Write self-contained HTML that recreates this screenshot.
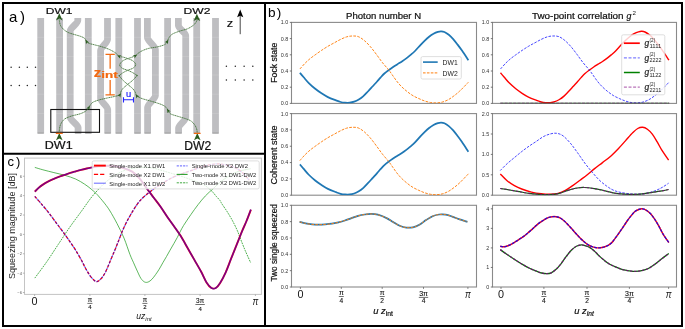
<!DOCTYPE html>
<html><head><meta charset="utf-8"><style>
html,body{margin:0;padding:0;background:#fff;}
body{width:685px;height:329px;overflow:hidden;}
svg{display:block;}
.aa{will-change:transform;}
text{font-family:"Liberation Sans",sans-serif;}
</style></head><body>
<svg class="aa" xmlns="http://www.w3.org/2000/svg" width="685" height="329" viewBox="0 0 685 329">
<rect x="0" y="0" width="685" height="329" fill="#fff"/>
<rect x="3" y="3" width="679" height="323" fill="none" stroke="#000" stroke-width="2"/>
<line x1="265" y1="2" x2="265" y2="327" stroke="#000" stroke-width="2"/>
<line x1="2" y1="153.8" x2="266" y2="153.8" stroke="#000" stroke-width="2"/>
<text x="268" y="16.8" font-size="13.6" text-anchor="start" fill="#000" stroke="none" letter-spacing="1.3">b)</text>
<text x="383.6" y="19.2" font-size="8.6" text-anchor="middle" fill="#111" textLength="75" lengthAdjust="spacingAndGlyphs"  stroke="#111" stroke-width="0.2">Photon number N</text>
<text x="532" y="19" font-size="8.6" text-anchor="start" fill="#111" textLength="91.6" lengthAdjust="spacingAndGlyphs"  stroke="#111" stroke-width="0.2">Two-point correlation</text>
<text x="626.4" y="19" font-size="8.8" fill="#111" font-style="italic" stroke="#111" stroke-width="0.2">g</text>
<text x="632.6" y="14.9" font-size="6.2" fill="#111">2</text>
<text transform="translate(277.2,62.7) rotate(-90)" x="0" y="0" font-size="8.6" text-anchor="middle" fill="#111" textLength="40" lengthAdjust="spacingAndGlyphs" stroke="#111" stroke-width="0.2">Fock state</text>
<text transform="translate(277.2,155) rotate(-90)" x="0" y="0" font-size="8.6" text-anchor="middle" fill="#111" textLength="59" lengthAdjust="spacingAndGlyphs" stroke="#111" stroke-width="0.2">Coherent state</text>
<text transform="translate(277.2,242.8) rotate(-90)" x="0" y="0" font-size="8.6" text-anchor="middle" fill="#111" textLength="77.5" lengthAdjust="spacingAndGlyphs" stroke="#111" stroke-width="0.2">Two single squeezed</text>
<rect x="291.5" y="22.4" width="185" height="81" fill="none" stroke="#8a8a8a" stroke-width="1.1"/>
<rect x="492.5" y="22.4" width="184" height="81" fill="none" stroke="#8a8a8a" stroke-width="1.1"/>
<rect x="291.5" y="113.6" width="185" height="81.6" fill="none" stroke="#8a8a8a" stroke-width="1.1"/>
<rect x="492.5" y="113.6" width="184" height="81.6" fill="none" stroke="#8a8a8a" stroke-width="1.1"/>
<rect x="291.5" y="205.3" width="185" height="81.7" fill="none" stroke="#8a8a8a" stroke-width="1.1"/>
<rect x="492.5" y="205.3" width="184" height="81.7" fill="none" stroke="#8a8a8a" stroke-width="1.1"/>
<line x1="289.8" y1="103.4" x2="291.5" y2="103.4" stroke="#555" stroke-width="0.8"/>
<text x="288.3" y="105.3" font-size="5.4" text-anchor="end" fill="#333" >0.0</text>
<line x1="289.8" y1="87.2" x2="291.5" y2="87.2" stroke="#555" stroke-width="0.8"/>
<text x="288.3" y="89.1" font-size="5.4" text-anchor="end" fill="#333" >0.2</text>
<line x1="289.8" y1="71" x2="291.5" y2="71" stroke="#555" stroke-width="0.8"/>
<text x="288.3" y="72.9" font-size="5.4" text-anchor="end" fill="#333" >0.4</text>
<line x1="289.8" y1="54.8" x2="291.5" y2="54.8" stroke="#555" stroke-width="0.8"/>
<text x="288.3" y="56.7" font-size="5.4" text-anchor="end" fill="#333" >0.6</text>
<line x1="289.8" y1="38.6" x2="291.5" y2="38.6" stroke="#555" stroke-width="0.8"/>
<text x="288.3" y="40.5" font-size="5.4" text-anchor="end" fill="#333" >0.8</text>
<line x1="289.8" y1="22.4" x2="291.5" y2="22.4" stroke="#555" stroke-width="0.8"/>
<text x="288.3" y="24.3" font-size="5.4" text-anchor="end" fill="#333" >1.0</text>
<line x1="289.8" y1="195.2" x2="291.5" y2="195.2" stroke="#555" stroke-width="0.8"/>
<text x="288.3" y="197.1" font-size="5.4" text-anchor="end" fill="#333" >0.0</text>
<line x1="289.8" y1="178.88" x2="291.5" y2="178.88" stroke="#555" stroke-width="0.8"/>
<text x="288.3" y="180.78" font-size="5.4" text-anchor="end" fill="#333" >0.2</text>
<line x1="289.8" y1="162.56" x2="291.5" y2="162.56" stroke="#555" stroke-width="0.8"/>
<text x="288.3" y="164.46" font-size="5.4" text-anchor="end" fill="#333" >0.4</text>
<line x1="289.8" y1="146.24" x2="291.5" y2="146.24" stroke="#555" stroke-width="0.8"/>
<text x="288.3" y="148.14" font-size="5.4" text-anchor="end" fill="#333" >0.6</text>
<line x1="289.8" y1="129.92" x2="291.5" y2="129.92" stroke="#555" stroke-width="0.8"/>
<text x="288.3" y="131.82" font-size="5.4" text-anchor="end" fill="#333" >0.8</text>
<line x1="289.8" y1="113.6" x2="291.5" y2="113.6" stroke="#555" stroke-width="0.8"/>
<text x="288.3" y="115.5" font-size="5.4" text-anchor="end" fill="#333" >1.0</text>
<line x1="289.8" y1="287" x2="291.5" y2="287" stroke="#555" stroke-width="0.8"/>
<text x="288.3" y="288.9" font-size="5.4" text-anchor="end" fill="#333" >0.0</text>
<line x1="289.8" y1="270.66" x2="291.5" y2="270.66" stroke="#555" stroke-width="0.8"/>
<text x="288.3" y="272.56" font-size="5.4" text-anchor="end" fill="#333" >0.2</text>
<line x1="289.8" y1="254.32" x2="291.5" y2="254.32" stroke="#555" stroke-width="0.8"/>
<text x="288.3" y="256.22" font-size="5.4" text-anchor="end" fill="#333" >0.4</text>
<line x1="289.8" y1="237.98" x2="291.5" y2="237.98" stroke="#555" stroke-width="0.8"/>
<text x="288.3" y="239.88" font-size="5.4" text-anchor="end" fill="#333" >0.6</text>
<line x1="289.8" y1="221.64" x2="291.5" y2="221.64" stroke="#555" stroke-width="0.8"/>
<text x="288.3" y="223.54" font-size="5.4" text-anchor="end" fill="#333" >0.8</text>
<line x1="289.8" y1="205.3" x2="291.5" y2="205.3" stroke="#555" stroke-width="0.8"/>
<text x="288.3" y="207.2" font-size="5.4" text-anchor="end" fill="#333" >1.0</text>
<line x1="490.8" y1="103.4" x2="492.5" y2="103.4" stroke="#555" stroke-width="0.8"/>
<text x="489.3" y="105.3" font-size="5.4" text-anchor="end" fill="#333" >0.0</text>
<line x1="490.8" y1="87.2" x2="492.5" y2="87.2" stroke="#555" stroke-width="0.8"/>
<text x="489.3" y="89.1" font-size="5.4" text-anchor="end" fill="#333" >0.2</text>
<line x1="490.8" y1="71" x2="492.5" y2="71" stroke="#555" stroke-width="0.8"/>
<text x="489.3" y="72.9" font-size="5.4" text-anchor="end" fill="#333" >0.4</text>
<line x1="490.8" y1="54.8" x2="492.5" y2="54.8" stroke="#555" stroke-width="0.8"/>
<text x="489.3" y="56.7" font-size="5.4" text-anchor="end" fill="#333" >0.6</text>
<line x1="490.8" y1="38.6" x2="492.5" y2="38.6" stroke="#555" stroke-width="0.8"/>
<text x="489.3" y="40.5" font-size="5.4" text-anchor="end" fill="#333" >0.8</text>
<line x1="490.8" y1="22.4" x2="492.5" y2="22.4" stroke="#555" stroke-width="0.8"/>
<text x="489.3" y="24.3" font-size="5.4" text-anchor="end" fill="#333" >1.0</text>
<line x1="490.8" y1="195.2" x2="492.5" y2="195.2" stroke="#555" stroke-width="0.8"/>
<text x="489.3" y="197.1" font-size="5.4" text-anchor="end" fill="#333" >0.0</text>
<line x1="490.8" y1="174.8" x2="492.5" y2="174.8" stroke="#555" stroke-width="0.8"/>
<text x="489.3" y="176.7" font-size="5.4" text-anchor="end" fill="#333" >0.5</text>
<line x1="490.8" y1="154.4" x2="492.5" y2="154.4" stroke="#555" stroke-width="0.8"/>
<text x="489.3" y="156.3" font-size="5.4" text-anchor="end" fill="#333" >1.0</text>
<line x1="490.8" y1="134" x2="492.5" y2="134" stroke="#555" stroke-width="0.8"/>
<text x="489.3" y="135.9" font-size="5.4" text-anchor="end" fill="#333" >1.5</text>
<line x1="490.8" y1="113.6" x2="492.5" y2="113.6" stroke="#555" stroke-width="0.8"/>
<text x="489.3" y="115.5" font-size="5.4" text-anchor="end" fill="#333" >2.0</text>
<line x1="490.8" y1="287" x2="492.5" y2="287" stroke="#555" stroke-width="0.8"/>
<text x="489.3" y="288.9" font-size="5.4" text-anchor="end" fill="#333" >0</text>
<line x1="490.8" y1="267.45" x2="492.5" y2="267.45" stroke="#555" stroke-width="0.8"/>
<text x="489.3" y="269.35" font-size="5.4" text-anchor="end" fill="#333" >1</text>
<line x1="490.8" y1="247.91" x2="492.5" y2="247.91" stroke="#555" stroke-width="0.8"/>
<text x="489.3" y="249.81" font-size="5.4" text-anchor="end" fill="#333" >2</text>
<line x1="490.8" y1="228.36" x2="492.5" y2="228.36" stroke="#555" stroke-width="0.8"/>
<text x="489.3" y="230.26" font-size="5.4" text-anchor="end" fill="#333" >3</text>
<line x1="490.8" y1="208.82" x2="492.5" y2="208.82" stroke="#555" stroke-width="0.8"/>
<text x="489.3" y="210.72" font-size="5.4" text-anchor="end" fill="#333" >4</text>
<line x1="300.4" y1="287" x2="300.4" y2="288.9" stroke="#666" stroke-width="0.8"/>
<line x1="341.3" y1="287" x2="341.3" y2="288.9" stroke="#666" stroke-width="0.8"/>
<line x1="382.2" y1="287" x2="382.2" y2="288.9" stroke="#666" stroke-width="0.8"/>
<line x1="423.5" y1="287" x2="423.5" y2="288.9" stroke="#666" stroke-width="0.8"/>
<line x1="467.9" y1="287" x2="467.9" y2="288.9" stroke="#666" stroke-width="0.8"/>
<line x1="501" y1="287" x2="501" y2="288.9" stroke="#666" stroke-width="0.8"/>
<line x1="543.9" y1="287" x2="543.9" y2="288.9" stroke="#666" stroke-width="0.8"/>
<line x1="587" y1="287" x2="587" y2="288.9" stroke="#666" stroke-width="0.8"/>
<line x1="629.4" y1="287" x2="629.4" y2="288.9" stroke="#666" stroke-width="0.8"/>
<line x1="668.6" y1="287" x2="668.6" y2="288.9" stroke="#666" stroke-width="0.8"/>
<text x="300.4" y="297.8" font-size="10.8" text-anchor="middle" fill="#111" stroke="none">0</text>
<text x="341.3" y="294.5" font-size="7" text-anchor="middle" fill="#111" stroke="#111" stroke-width="0.12">&#960;</text>
<line x1="338.8" y1="296.5" x2="343.8" y2="296.5" stroke="#222" stroke-width="0.65"/>
<text x="341.3" y="302.7" font-size="6.6" text-anchor="middle" fill="#111" stroke="#111" stroke-width="0.12">4</text>
<text x="382.2" y="294.5" font-size="7" text-anchor="middle" fill="#111" stroke="#111" stroke-width="0.12">&#960;</text>
<line x1="379.7" y1="296.5" x2="384.7" y2="296.5" stroke="#222" stroke-width="0.65"/>
<text x="382.2" y="302.7" font-size="6.6" text-anchor="middle" fill="#111" stroke="#111" stroke-width="0.12">2</text>
<text x="423.5" y="295.6" font-size="7" text-anchor="middle" fill="#111" stroke="#111" stroke-width="0.12">3&#960;</text>
<line x1="418.8" y1="297.4" x2="428.2" y2="297.4" stroke="#222" stroke-width="0.65"/>
<text x="423.5" y="303.4" font-size="6.6" text-anchor="middle" fill="#111" stroke="#111" stroke-width="0.12">4</text>
<text x="465" y="297.8" font-size="10.8" text-anchor="start" fill="#111" textLength="5.8" lengthAdjust="spacingAndGlyphs" font-style="italic" stroke="none">&#960;</text>
<text x="501" y="297.8" font-size="10.8" text-anchor="middle" fill="#111" stroke="none">0</text>
<text x="543.9" y="294.5" font-size="7" text-anchor="middle" fill="#111" stroke="#111" stroke-width="0.12">&#960;</text>
<line x1="541.4" y1="296.5" x2="546.4" y2="296.5" stroke="#222" stroke-width="0.65"/>
<text x="543.9" y="302.7" font-size="6.6" text-anchor="middle" fill="#111" stroke="#111" stroke-width="0.12">4</text>
<text x="587" y="294.5" font-size="7" text-anchor="middle" fill="#111" stroke="#111" stroke-width="0.12">&#960;</text>
<line x1="584.5" y1="296.5" x2="589.5" y2="296.5" stroke="#222" stroke-width="0.65"/>
<text x="587" y="302.7" font-size="6.6" text-anchor="middle" fill="#111" stroke="#111" stroke-width="0.12">2</text>
<text x="629.4" y="295.6" font-size="7" text-anchor="middle" fill="#111" stroke="#111" stroke-width="0.12">3&#960;</text>
<line x1="624.7" y1="297.4" x2="634.1" y2="297.4" stroke="#222" stroke-width="0.65"/>
<text x="629.4" y="303.4" font-size="6.6" text-anchor="middle" fill="#111" stroke="#111" stroke-width="0.12">4</text>
<text x="665.7" y="297.8" font-size="10.8" text-anchor="start" fill="#111" textLength="5.8" lengthAdjust="spacingAndGlyphs" font-style="italic" stroke="none">&#960;</text>
<text x="383" y="314" font-size="9.4" text-anchor="middle" fill="#111" font-style="italic" stroke="#111" stroke-width="0.2">u z<tspan font-size="6.8" dy="2" font-style="normal">int</tspan></text>
<text x="584" y="314" font-size="9.4" text-anchor="middle" fill="#111" font-style="italic" stroke="#111" stroke-width="0.2">u z<tspan font-size="6.6" dy="2">int</tspan></text>
<defs><clipPath id="cl0"><rect x="291.5" y="20.4" width="185" height="83"/></clipPath><clipPath id="cr0"><rect x="492.5" y="20.4" width="184" height="83"/></clipPath><clipPath id="cl1"><rect x="291.5" y="111.6" width="185" height="83.6"/></clipPath><clipPath id="cr1"><rect x="492.5" y="111.6" width="184" height="83.6"/></clipPath><clipPath id="cl2"><rect x="291.5" y="203.3" width="185" height="83.7"/></clipPath><clipPath id="cr2"><rect x="492.5" y="203.3" width="184" height="83.7"/></clipPath></defs>
<g clip-path="url(#cl0)">
<path d="M299.9,72.8 C300.53,73.55 302.22,75.58 303.7,77.3 C305.18,79.02 306.88,81.18 308.8,83.1 C310.72,85.02 313.08,87.1 315.2,88.8 C317.32,90.5 319.38,91.92 321.5,93.3 C323.62,94.68 325.48,95.92 327.9,97.1 C330.32,98.28 333.88,99.58 336,100.4 C338.12,101.22 339.08,101.62 340.6,102 C342.12,102.38 343.58,102.58 345.1,102.7 C346.62,102.82 348.18,102.87 349.7,102.7 C351.22,102.53 352.68,102.23 354.2,101.7 C355.72,101.17 357.27,100.43 358.8,99.5 C360.33,98.57 361.88,97.43 363.4,96.1 C364.92,94.77 366.38,93.1 367.9,91.5 C369.42,89.9 370.97,88.17 372.5,86.5 C374.03,84.83 375.77,82.98 377.1,81.5 C378.43,80.02 379.28,78.93 380.5,77.6 C381.72,76.27 383.02,74.77 384.4,73.5 C385.78,72.23 387.35,71.08 388.8,70 C390.25,68.92 391.65,67.97 393.1,67 C394.55,66.03 396.03,65.12 397.5,64.2 C398.97,63.28 400.43,62.47 401.9,61.5 C403.37,60.53 404.85,59.5 406.3,58.4 C407.75,57.3 409.15,56.13 410.6,54.9 C412.05,53.67 413.37,52.63 415,51 C416.63,49.37 418.77,46.83 420.4,45.1 C422.03,43.37 423.35,42 424.8,40.6 C426.25,39.2 427.65,37.85 429.1,36.7 C430.55,35.55 432.03,34.52 433.5,33.7 C434.97,32.88 436.62,32.2 437.9,31.8 C439.18,31.4 440.12,31.27 441.2,31.3 C442.28,31.33 443.13,31.42 444.4,32 C445.67,32.58 447.33,33.62 448.8,34.8 C450.27,35.98 451.73,37.47 453.2,39.1 C454.67,40.73 456.13,42.68 457.6,44.6 C459.07,46.52 460.2,48 462,50.6 C463.8,53.2 467.33,58.6 468.4,60.2" fill="none" stroke="#1f77b4" stroke-width="1.75" stroke-linecap="butt" stroke-linejoin="round" />
<path d="M299.9,69 C300.73,68.07 303.22,65.12 304.9,63.4 C306.58,61.68 308.3,60.12 310,58.7 C311.7,57.28 313.18,56.28 315.1,54.9 C317.02,53.52 319.37,51.83 321.5,50.4 C323.63,48.97 325.77,47.57 327.9,46.3 C330.03,45.03 332.18,43.95 334.3,42.8 C336.42,41.65 338.57,40.38 340.6,39.4 C342.63,38.42 344.58,37.47 346.5,36.9 C348.42,36.33 350.15,36.05 352.1,36 C354.05,35.95 356.17,35.85 358.2,36.6 C360.23,37.35 362.27,38.82 364.3,40.5 C366.33,42.18 368.38,44.38 370.4,46.7 C372.42,49.02 374.38,51.73 376.4,54.4 C378.42,57.07 380.47,60.13 382.5,62.7 C384.53,65.27 387.02,67.83 388.6,69.8 C390.18,71.77 390.65,72.62 392,74.5 C393.35,76.38 395.15,79.12 396.7,81.1 C398.25,83.08 399.55,84.65 401.3,86.4 C403.05,88.15 405.25,90.05 407.2,91.6 C409.15,93.15 411.05,94.53 413,95.7 C414.95,96.87 416.95,97.72 418.9,98.6 C420.85,99.48 422.75,100.35 424.7,101 C426.65,101.65 428.65,102.18 430.6,102.5 C432.55,102.82 434.47,102.97 436.4,102.9 C438.33,102.83 440.25,102.62 442.2,102.1 C444.15,101.58 446.15,100.83 448.1,99.8 C450.05,98.77 451.95,97.37 453.9,95.9 C455.85,94.43 457.38,93.28 459.8,91 C462.22,88.72 466.97,83.67 468.4,82.2" fill="none" stroke="#ff7f0e" stroke-width="0.95" stroke-linecap="butt" stroke-linejoin="round" stroke-dasharray="2.7,1.3" />
</g>
<g clip-path="url(#cl1)">
<path d="M299.9,164.37 C300.53,165.13 302.22,167.18 303.7,168.91 C305.18,170.64 306.88,172.82 308.8,174.75 C310.72,176.68 313.08,178.78 315.2,180.49 C317.32,182.2 319.38,183.63 321.5,185.03 C323.62,186.42 325.48,187.66 327.9,188.85 C330.32,190.05 333.88,191.36 336,192.18 C338.12,193 339.08,193.4 340.6,193.79 C342.12,194.18 343.58,194.38 345.1,194.49 C346.62,194.61 348.18,194.66 349.7,194.49 C351.22,194.33 352.68,194.02 354.2,193.49 C355.72,192.95 357.27,192.21 358.8,191.27 C360.33,190.33 361.88,189.19 363.4,187.85 C364.92,186.5 366.38,184.82 367.9,183.21 C369.42,181.6 370.97,179.85 372.5,178.17 C374.03,176.5 375.77,174.63 377.1,173.14 C378.43,171.64 379.28,170.55 380.5,169.21 C381.72,167.87 383.02,166.35 384.4,165.08 C385.78,163.8 387.35,162.64 388.8,161.55 C390.25,160.46 391.65,159.5 393.1,158.53 C394.55,157.56 396.03,156.63 397.5,155.71 C398.97,154.79 400.43,153.96 401.9,152.99 C403.37,152.02 404.85,150.97 406.3,149.87 C407.75,148.76 409.15,147.58 410.6,146.34 C412.05,145.1 413.37,144.06 415,142.41 C416.63,140.77 418.77,138.21 420.4,136.47 C422.03,134.72 423.35,133.35 424.8,131.93 C426.25,130.52 427.65,129.16 429.1,128.01 C430.55,126.85 432.03,125.81 433.5,124.98 C434.97,124.16 436.62,123.47 437.9,123.07 C439.18,122.67 440.12,122.53 441.2,122.57 C442.28,122.6 443.13,122.68 444.4,123.27 C445.67,123.86 447.33,124.9 448.8,126.09 C450.27,127.28 451.73,128.78 453.2,130.42 C454.67,132.07 456.13,134.03 457.6,135.96 C459.07,137.9 460.2,139.39 462,142.01 C463.8,144.63 467.33,150.07 468.4,151.68" fill="none" stroke="#1f77b4" stroke-width="1.75" stroke-linecap="butt" stroke-linejoin="round" />
<path d="M299.9,160.55 C300.73,159.6 303.22,156.63 304.9,154.9 C306.58,153.17 308.3,151.6 310,150.17 C311.7,148.74 313.18,147.73 315.1,146.34 C317.02,144.95 319.37,143.25 321.5,141.81 C323.63,140.36 325.77,138.95 327.9,137.68 C330.03,136.4 332.18,135.31 334.3,134.15 C336.42,132.99 338.57,131.72 340.6,130.73 C342.63,129.74 344.58,128.78 346.5,128.21 C348.42,127.64 350.15,127.35 352.1,127.3 C354.05,127.25 356.17,127.15 358.2,127.91 C360.23,128.66 362.27,130.14 364.3,131.83 C366.33,133.53 368.38,135.75 370.4,138.08 C372.42,140.41 374.38,143.15 376.4,145.84 C378.42,148.52 380.47,151.61 382.5,154.2 C384.53,156.78 387.02,159.37 388.6,161.35 C390.18,163.33 390.65,164.19 392,166.09 C393.35,167.98 395.15,170.74 396.7,172.73 C398.25,174.73 399.55,176.31 401.3,178.07 C403.05,179.84 405.25,181.75 407.2,183.31 C409.15,184.87 411.05,186.27 413,187.44 C414.95,188.62 416.95,189.47 418.9,190.36 C420.85,191.25 422.75,192.13 424.7,192.78 C426.65,193.44 428.65,193.97 430.6,194.29 C432.55,194.61 434.47,194.76 436.4,194.7 C438.33,194.63 440.25,194.41 442.2,193.89 C444.15,193.37 446.15,192.61 448.1,191.57 C450.05,190.53 451.95,189.12 453.9,187.64 C455.85,186.17 457.38,185.01 459.8,182.71 C462.22,180.41 466.97,175.32 468.4,173.84" fill="none" stroke="#ff7f0e" stroke-width="0.95" stroke-linecap="butt" stroke-linejoin="round" stroke-dasharray="2.7,1.3" />
</g>
<g clip-path="url(#cl2)">
<path d="M299.6,221.8 C300.58,222.07 303.42,222.97 305.5,223.4 C307.58,223.83 309.9,224.18 312.1,224.4 C314.3,224.62 316.52,224.7 318.7,224.7 C320.88,224.7 323.02,224.57 325.2,224.4 C327.38,224.23 329.6,224.05 331.8,223.7 C334,223.35 336.22,222.83 338.4,222.3 C340.58,221.77 342.72,221.2 344.9,220.5 C347.08,219.8 349.3,218.87 351.5,218.1 C353.7,217.33 355.92,216.5 358.1,215.9 C360.28,215.3 362.42,214.83 364.6,214.5 C366.78,214.17 369,213.87 371.2,213.9 C373.4,213.93 375.23,214 377.8,214.7 C380.37,215.4 384.05,216.87 386.6,218.1 C389.15,219.33 390.92,220.82 393.1,222.1 C395.28,223.38 397.5,224.88 399.7,225.8 C401.9,226.72 404.1,227.35 406.3,227.6 C408.5,227.85 410.72,227.78 412.9,227.3 C415.08,226.82 417.22,225.9 419.4,224.7 C421.58,223.5 423.8,221.52 426,220.1 C428.2,218.68 430.42,217.13 432.6,216.2 C434.78,215.27 436.92,214.77 439.1,214.5 C441.28,214.23 443.5,214.25 445.7,214.6 C447.9,214.95 450.12,215.83 452.3,216.6 C454.48,217.37 456.28,218.33 458.8,219.2 C461.32,220.07 465.97,221.37 467.4,221.8" fill="none" stroke="#1f77b4" stroke-width="1.75" stroke-linecap="butt" stroke-linejoin="round" />
<path d="M299.6,221.8 C300.58,222.07 303.42,222.97 305.5,223.4 C307.58,223.83 309.9,224.18 312.1,224.4 C314.3,224.62 316.52,224.7 318.7,224.7 C320.88,224.7 323.02,224.57 325.2,224.4 C327.38,224.23 329.6,224.05 331.8,223.7 C334,223.35 336.22,222.83 338.4,222.3 C340.58,221.77 342.72,221.2 344.9,220.5 C347.08,219.8 349.3,218.87 351.5,218.1 C353.7,217.33 355.92,216.5 358.1,215.9 C360.28,215.3 362.42,214.83 364.6,214.5 C366.78,214.17 369,213.87 371.2,213.9 C373.4,213.93 375.23,214 377.8,214.7 C380.37,215.4 384.05,216.87 386.6,218.1 C389.15,219.33 390.92,220.82 393.1,222.1 C395.28,223.38 397.5,224.88 399.7,225.8 C401.9,226.72 404.1,227.35 406.3,227.6 C408.5,227.85 410.72,227.78 412.9,227.3 C415.08,226.82 417.22,225.9 419.4,224.7 C421.58,223.5 423.8,221.52 426,220.1 C428.2,218.68 430.42,217.13 432.6,216.2 C434.78,215.27 436.92,214.77 439.1,214.5 C441.28,214.23 443.5,214.25 445.7,214.6 C447.9,214.95 450.12,215.83 452.3,216.6 C454.48,217.37 456.28,218.33 458.8,219.2 C461.32,220.07 465.97,221.37 467.4,221.8" fill="none" stroke="#ff7f0e" stroke-width="0.95" stroke-linecap="butt" stroke-linejoin="round" stroke-dasharray="2.7,1.3" />
</g>
<g clip-path="url(#cr0)">
<path d="M500.5,72.8 C501.13,73.55 502.82,75.58 504.3,77.3 C505.78,79.02 507.48,81.18 509.4,83.1 C511.32,85.02 513.68,87.1 515.8,88.8 C517.92,90.5 519.98,91.92 522.1,93.3 C524.22,94.68 526.08,95.92 528.5,97.1 C530.92,98.28 534.48,99.58 536.6,100.4 C538.72,101.22 539.68,101.62 541.2,102 C542.72,102.38 544.18,102.58 545.7,102.7 C547.22,102.82 548.78,102.87 550.3,102.7 C551.82,102.53 553.28,102.23 554.8,101.7 C556.32,101.17 557.87,100.43 559.4,99.5 C560.93,98.57 562.48,97.43 564,96.1 C565.52,94.77 566.98,93.1 568.5,91.5 C570.02,89.9 571.57,88.17 573.1,86.5 C574.63,84.83 576.37,82.98 577.7,81.5 C579.03,80.02 579.88,78.93 581.1,77.6 C582.32,76.27 583.62,74.77 585,73.5 C586.38,72.23 587.95,71.08 589.4,70 C590.85,68.92 592.25,67.97 593.7,67 C595.15,66.03 596.63,65.12 598.1,64.2 C599.57,63.28 601.03,62.47 602.5,61.5 C603.97,60.53 605.45,59.5 606.9,58.4 C608.35,57.3 609.75,56.13 611.2,54.9 C612.65,53.67 613.97,52.63 615.6,51 C617.23,49.37 619.37,46.83 621,45.1 C622.63,43.37 623.95,42 625.4,40.6 C626.85,39.2 628.25,37.85 629.7,36.7 C631.15,35.55 632.63,34.52 634.1,33.7 C635.57,32.88 637.22,32.2 638.5,31.8 C639.78,31.4 640.72,31.27 641.8,31.3 C642.88,31.33 643.73,31.42 645,32 C646.27,32.58 647.93,33.62 649.4,34.8 C650.87,35.98 652.33,37.47 653.8,39.1 C655.27,40.73 656.73,42.68 658.2,44.6 C659.67,46.52 660.8,48 662.6,50.6 C664.4,53.2 667.93,58.6 669,60.2" fill="none" stroke="#ff0000" stroke-width="1.4" stroke-linecap="butt" stroke-linejoin="round" />
<path d="M500.5,69 C501.33,68.07 503.82,65.12 505.5,63.4 C507.18,61.68 508.9,60.12 510.6,58.7 C512.3,57.28 513.78,56.28 515.7,54.9 C517.62,53.52 519.97,51.83 522.1,50.4 C524.23,48.97 526.37,47.57 528.5,46.3 C530.63,45.03 532.78,43.95 534.9,42.8 C537.02,41.65 539.17,40.38 541.2,39.4 C543.23,38.42 545.18,37.47 547.1,36.9 C549.02,36.33 550.75,36.05 552.7,36 C554.65,35.95 556.77,35.85 558.8,36.6 C560.83,37.35 562.87,38.82 564.9,40.5 C566.93,42.18 568.98,44.38 571,46.7 C573.02,49.02 574.98,51.73 577,54.4 C579.02,57.07 581.07,60.13 583.1,62.7 C585.13,65.27 587.62,67.83 589.2,69.8 C590.78,71.77 591.25,72.62 592.6,74.5 C593.95,76.38 595.75,79.12 597.3,81.1 C598.85,83.08 600.15,84.65 601.9,86.4 C603.65,88.15 605.85,90.05 607.8,91.6 C609.75,93.15 611.65,94.53 613.6,95.7 C615.55,96.87 617.55,97.72 619.5,98.6 C621.45,99.48 623.35,100.35 625.3,101 C627.25,101.65 629.25,102.18 631.2,102.5 C633.15,102.82 635.07,102.97 637,102.9 C638.93,102.83 640.85,102.62 642.8,102.1 C644.75,101.58 646.75,100.83 648.7,99.8 C650.65,98.77 652.55,97.37 654.5,95.9 C656.45,94.43 657.98,93.28 660.4,91 C662.82,88.72 667.57,83.67 669,82.2" fill="none" stroke="#0000ff" stroke-width="1.0" stroke-linecap="butt" stroke-linejoin="round" stroke-dasharray="2.6,1.3" stroke-opacity="0.72" />
<line x1="500.3" y1="103.2" x2="669.2" y2="103.2" stroke="#1f6a1f" stroke-width="1.1"/>
<line x1="500.3" y1="103.2" x2="669.2" y2="103.2" stroke="#7a2a7a" stroke-width="1.1" stroke-dasharray="3,1.3"/>
</g>
<g clip-path="url(#cr1)">
<path d="M500.3,173.9 C501.43,175.03 504.75,178.75 507.1,180.7 C509.45,182.65 511.97,184.22 514.4,185.6 C516.83,186.98 518.87,187.92 521.7,189 C524.53,190.08 528.15,191.3 531.4,192.1 C534.65,192.9 537.95,193.43 541.2,193.8 C544.45,194.17 548.07,194.37 550.9,194.3 C553.73,194.23 555.78,194.05 558.2,193.4 C560.62,192.75 562.98,191.7 565.4,190.4 C567.82,189.1 570.27,187.3 572.7,185.6 C575.13,183.9 577.57,182.02 580,180.2 C582.43,178.38 584.87,176.63 587.3,174.7 C589.73,172.77 592.07,170.62 594.6,168.6 C597.13,166.58 599.77,164.72 602.5,162.6 C605.23,160.48 608.37,158.22 611,155.9 C613.63,153.58 615.87,151.25 618.3,148.7 C620.73,146.15 623.17,143.28 625.6,140.6 C628.03,137.92 630.88,134.62 632.9,132.6 C634.92,130.58 636.08,129.38 637.7,128.5 C639.32,127.62 640.98,127.18 642.6,127.3 C644.22,127.42 645.78,128.07 647.4,129.2 C649.02,130.33 650.67,131.98 652.3,134.1 C653.93,136.22 655.58,139.18 657.2,141.9 C658.82,144.62 660.1,147.37 662,150.4 C663.9,153.43 667.5,158.48 668.6,160.1" fill="none" stroke="#ff0000" stroke-width="1.4" stroke-linecap="butt" stroke-linejoin="round" />
<path d="M500.3,170.5 C501.43,169.37 504.75,165.85 507.1,163.7 C509.45,161.55 511.97,159.62 514.4,157.6 C516.83,155.58 519.27,153.5 521.7,151.6 C524.13,149.7 526.57,147.9 529,146.2 C531.43,144.5 533.87,143.02 536.3,141.4 C538.73,139.78 541.17,137.77 543.6,136.5 C546.03,135.23 548.68,134.33 550.9,133.8 C553.12,133.27 554.88,132.97 556.9,133.3 C558.92,133.63 560.77,134.17 563,135.8 C565.23,137.43 567.87,140.27 570.3,143.1 C572.73,145.93 575.17,149.45 577.6,152.8 C580.03,156.15 582.47,159.97 584.9,163.2 C587.33,166.43 589.78,169.37 592.2,172.2 C594.62,175.03 596.98,177.88 599.4,180.2 C601.82,182.52 604.43,184.47 606.7,186.1 C608.97,187.73 610.67,188.95 613,190 C615.33,191.05 617.38,191.72 620.7,192.4 C624.02,193.08 628.85,193.9 632.9,194.1 C636.95,194.3 641.37,194.13 645,193.6 C648.63,193.07 651.87,191.92 654.7,190.9 C657.53,189.88 659.68,188.78 662,187.5 C664.32,186.22 667.5,183.92 668.6,183.2" fill="none" stroke="#0000ff" stroke-width="1.0" stroke-linecap="butt" stroke-linejoin="round" stroke-dasharray="2.6,1.3" stroke-opacity="0.72" />
<path d="M500.3,188.5 C501.85,188.75 506.43,189.47 509.6,190 C512.77,190.53 516.07,191.13 519.3,191.7 C522.53,192.27 525.77,192.97 529,193.4 C532.23,193.83 535.47,194.1 538.7,194.3 C541.93,194.5 545.15,194.72 548.4,194.6 C551.65,194.48 554.95,194.3 558.2,193.6 C561.45,192.9 564.72,191.33 567.9,190.4 C571.08,189.47 574.52,188.48 577.3,188 C580.08,187.52 581.77,187.38 584.6,187.5 C587.43,187.62 590.87,188.13 594.3,188.7 C597.73,189.27 601.6,190.12 605.2,190.9 C608.8,191.68 612.1,192.83 615.9,193.4 C619.7,193.97 623.95,194.18 628,194.3 C632.05,194.42 636.15,194.42 640.2,194.1 C644.25,193.78 648.67,192.93 652.3,192.4 C655.93,191.87 659.28,191.38 662,190.9 C664.72,190.42 667.5,189.73 668.6,189.5" fill="none" stroke="#0a6a0a" stroke-width="1.2" stroke-linecap="butt" stroke-linejoin="round" />
<path d="M500.3,188.5 C501.85,188.75 506.43,189.47 509.6,190 C512.77,190.53 516.07,191.13 519.3,191.7 C522.53,192.27 525.77,192.97 529,193.4 C532.23,193.83 535.47,194.1 538.7,194.3 C541.93,194.5 545.15,194.72 548.4,194.6 C551.65,194.48 554.95,194.3 558.2,193.6 C561.45,192.9 564.72,191.33 567.9,190.4 C571.08,189.47 574.52,188.48 577.3,188 C580.08,187.52 581.77,187.38 584.6,187.5 C587.43,187.62 590.87,188.13 594.3,188.7 C597.73,189.27 601.6,190.12 605.2,190.9 C608.8,191.68 612.1,192.83 615.9,193.4 C619.7,193.97 623.95,194.18 628,194.3 C632.05,194.42 636.15,194.42 640.2,194.1 C644.25,193.78 648.67,192.93 652.3,192.4 C655.93,191.87 659.28,191.38 662,190.9 C664.72,190.42 667.5,189.73 668.6,189.5" fill="none" stroke="#800080" stroke-width="1.2" stroke-linecap="butt" stroke-linejoin="round" stroke-dasharray="2.4,1.6" stroke-opacity="0.72" />
</g>
<g clip-path="url(#cr2)">
<path d="M500.2,246.3 C500.83,246.38 502.7,246.9 504,246.8 C505.3,246.7 506.67,246.2 508,245.7 C509.33,245.2 510.67,244.52 512,243.8 C513.33,243.08 514.65,242.25 516,241.4 C517.35,240.55 518.75,239.58 520.1,238.7 C521.45,237.82 522.77,237.1 524.1,236.1 C525.43,235.1 526.77,233.82 528.1,232.7 C529.43,231.58 530.77,230.58 532.1,229.4 C533.43,228.22 534.77,226.77 536.1,225.6 C537.43,224.43 538.77,223.37 540.1,222.4 C541.43,221.43 542.77,220.6 544.1,219.8 C545.43,219 546.77,218.12 548.1,217.6 C549.43,217.08 550.77,216.85 552.1,216.7 C553.43,216.55 554.78,216.52 556.1,216.7 C557.42,216.88 558.68,217.13 560,217.8 C561.32,218.47 562.67,219.55 564,220.7 C565.33,221.85 566.67,223.3 568,224.7 C569.33,226.1 570.65,227.6 572,229.1 C573.35,230.6 574.75,232.2 576.1,233.7 C577.45,235.2 578.77,236.77 580.1,238.1 C581.43,239.43 582.77,240.58 584.1,241.7 C585.43,242.82 586.77,243.98 588.1,244.8 C589.43,245.62 590.77,246.12 592.1,246.6 C593.43,247.08 594.77,247.5 596.1,247.7 C597.43,247.9 598.77,247.92 600.1,247.8 C601.43,247.68 602.77,247.4 604.1,247 C605.43,246.6 606.78,246.17 608.1,245.4 C609.42,244.63 610.98,243.37 612,242.4 C613.02,241.43 613.13,241.03 614.2,239.6 C615.27,238.17 617,235.77 618.4,233.8 C619.8,231.83 621.2,229.85 622.6,227.8 C624,225.75 625.4,223.48 626.8,221.5 C628.2,219.52 629.6,217.6 631,215.9 C632.4,214.2 633.8,212.42 635.2,211.3 C636.6,210.18 638.12,209.6 639.4,209.2 C640.68,208.8 641.73,208.72 642.9,208.9 C644.07,209.08 645.12,209.48 646.4,210.3 C647.68,211.12 649.2,212.28 650.6,213.8 C652,215.32 653.4,217.3 654.8,219.4 C656.2,221.5 657.62,223.95 659,226.4 C660.38,228.85 661.47,231.4 663.1,234.1 C664.73,236.8 667.85,241.18 668.8,242.6" fill="none" stroke="#ff0000" stroke-width="1.45" stroke-linecap="butt" stroke-linejoin="round" />
<path d="M500.2,246.3 C500.83,246.38 502.7,246.9 504,246.8 C505.3,246.7 506.67,246.2 508,245.7 C509.33,245.2 510.67,244.52 512,243.8 C513.33,243.08 514.65,242.25 516,241.4 C517.35,240.55 518.75,239.58 520.1,238.7 C521.45,237.82 522.77,237.1 524.1,236.1 C525.43,235.1 526.77,233.82 528.1,232.7 C529.43,231.58 530.77,230.58 532.1,229.4 C533.43,228.22 534.77,226.77 536.1,225.6 C537.43,224.43 538.77,223.37 540.1,222.4 C541.43,221.43 542.77,220.6 544.1,219.8 C545.43,219 546.77,218.12 548.1,217.6 C549.43,217.08 550.77,216.85 552.1,216.7 C553.43,216.55 554.78,216.52 556.1,216.7 C557.42,216.88 558.68,217.13 560,217.8 C561.32,218.47 562.67,219.55 564,220.7 C565.33,221.85 566.67,223.3 568,224.7 C569.33,226.1 570.65,227.6 572,229.1 C573.35,230.6 574.75,232.2 576.1,233.7 C577.45,235.2 578.77,236.77 580.1,238.1 C581.43,239.43 582.77,240.58 584.1,241.7 C585.43,242.82 586.77,243.98 588.1,244.8 C589.43,245.62 590.77,246.12 592.1,246.6 C593.43,247.08 594.77,247.5 596.1,247.7 C597.43,247.9 598.77,247.92 600.1,247.8 C601.43,247.68 602.77,247.4 604.1,247 C605.43,246.6 606.78,246.17 608.1,245.4 C609.42,244.63 610.98,243.37 612,242.4 C613.02,241.43 613.13,241.03 614.2,239.6 C615.27,238.17 617,235.77 618.4,233.8 C619.8,231.83 621.2,229.85 622.6,227.8 C624,225.75 625.4,223.48 626.8,221.5 C628.2,219.52 629.6,217.6 631,215.9 C632.4,214.2 633.8,212.42 635.2,211.3 C636.6,210.18 638.12,209.6 639.4,209.2 C640.68,208.8 641.73,208.72 642.9,208.9 C644.07,209.08 645.12,209.48 646.4,210.3 C647.68,211.12 649.2,212.28 650.6,213.8 C652,215.32 653.4,217.3 654.8,219.4 C656.2,221.5 657.62,223.95 659,226.4 C660.38,228.85 661.47,231.4 663.1,234.1 C664.73,236.8 667.85,241.18 668.8,242.6" fill="none" stroke="#0000ff" stroke-width="1.3" stroke-linecap="butt" stroke-linejoin="round" stroke-dasharray="3,1.1" stroke-opacity="0.8" />
<path d="M500.3,249.6 C501.2,250.25 503.93,252.27 505.7,253.5 C507.47,254.73 508.97,255.72 510.9,257 C512.83,258.28 515.17,259.85 517.3,261.2 C519.43,262.55 521.57,263.88 523.7,265.1 C525.83,266.32 527.95,267.48 530.1,268.5 C532.25,269.52 534.67,270.45 536.6,271.2 C538.53,271.95 540,272.58 541.7,273 C543.4,273.42 545.2,273.73 546.8,273.7 C548.4,273.67 549.8,273.48 551.3,272.8 C552.8,272.12 554.18,271.1 555.8,269.6 C557.42,268.1 559.28,265.95 561,263.8 C562.72,261.65 564.38,258.95 566.1,256.7 C567.82,254.45 569.58,252.05 571.3,250.3 C573.02,248.55 574.7,247.1 576.4,246.2 C578.1,245.3 580.07,245 581.5,244.9 C582.93,244.8 583.73,245.23 585,245.6 C586.27,245.97 587.55,246.22 589.1,247.1 C590.65,247.98 592.58,249.4 594.3,250.9 C596.02,252.4 597.68,254.48 599.4,256.1 C601.12,257.72 602.88,259.25 604.6,260.6 C606.32,261.95 607.78,263.1 609.7,264.2 C611.62,265.3 613.95,266.3 616.1,267.2 C618.25,268.1 620.45,269 622.6,269.6 C624.75,270.2 626.87,270.5 629,270.8 C631.13,271.1 633.27,271.43 635.4,271.4 C637.53,271.37 639.65,271.08 641.8,270.6 C643.95,270.12 646.15,269.53 648.3,268.5 C650.45,267.47 652.57,265.93 654.7,264.4 C656.83,262.87 658.75,261.13 661.1,259.3 C663.45,257.47 667.52,254.38 668.8,253.4" fill="none" stroke="#0a6a0a" stroke-width="1.3" stroke-linecap="butt" stroke-linejoin="round" />
<path d="M500.3,249.6 C501.2,250.25 503.93,252.27 505.7,253.5 C507.47,254.73 508.97,255.72 510.9,257 C512.83,258.28 515.17,259.85 517.3,261.2 C519.43,262.55 521.57,263.88 523.7,265.1 C525.83,266.32 527.95,267.48 530.1,268.5 C532.25,269.52 534.67,270.45 536.6,271.2 C538.53,271.95 540,272.58 541.7,273 C543.4,273.42 545.2,273.73 546.8,273.7 C548.4,273.67 549.8,273.48 551.3,272.8 C552.8,272.12 554.18,271.1 555.8,269.6 C557.42,268.1 559.28,265.95 561,263.8 C562.72,261.65 564.38,258.95 566.1,256.7 C567.82,254.45 569.58,252.05 571.3,250.3 C573.02,248.55 574.7,247.1 576.4,246.2 C578.1,245.3 580.07,245 581.5,244.9 C582.93,244.8 583.73,245.23 585,245.6 C586.27,245.97 587.55,246.22 589.1,247.1 C590.65,247.98 592.58,249.4 594.3,250.9 C596.02,252.4 597.68,254.48 599.4,256.1 C601.12,257.72 602.88,259.25 604.6,260.6 C606.32,261.95 607.78,263.1 609.7,264.2 C611.62,265.3 613.95,266.3 616.1,267.2 C618.25,268.1 620.45,269 622.6,269.6 C624.75,270.2 626.87,270.5 629,270.8 C631.13,271.1 633.27,271.43 635.4,271.4 C637.53,271.37 639.65,271.08 641.8,270.6 C643.95,270.12 646.15,269.53 648.3,268.5 C650.45,267.47 652.57,265.93 654.7,264.4 C656.83,262.87 658.75,261.13 661.1,259.3 C663.45,257.47 667.52,254.38 668.8,253.4" fill="none" stroke="#800080" stroke-width="1.3" stroke-linecap="butt" stroke-linejoin="round" stroke-dasharray="2.4,1.6" stroke-opacity="0.75" />
</g>
<rect x="421" y="56.6" width="40.3" height="22.4" rx="1.6" fill="#fff" fill-opacity="0.8" stroke="#d6d6d6" stroke-width="0.8"/>
<line x1="423.0" y1="62.1" x2="437.7" y2="62.1" stroke="#1f77b4" stroke-width="1.6"/>
<line x1="423.0" y1="72.9" x2="437.7" y2="72.9" stroke="#ff7f0e" stroke-width="1.0" stroke-dasharray="2.6,1.3"/>
<text x="442.6" y="64.6" font-size="7.2" text-anchor="start" fill="#222" textLength="15.2" lengthAdjust="spacingAndGlyphs" >DW1</text>
<text x="442.6" y="75.7" font-size="7.2" text-anchor="start" fill="#222" textLength="15.2" lengthAdjust="spacingAndGlyphs" >DW2</text>
<rect x="621.7" y="34.8" width="43.1" height="60" rx="1.6" fill="#fff" fill-opacity="0.8" stroke="#d6d6d6" stroke-width="0.8"/>
<line x1="623.9" y1="43.2" x2="639.8" y2="43.2" stroke="#ff0000" stroke-width="1.7"/>
<line x1="623.9" y1="57.9" x2="639.8" y2="57.9" stroke="#0000ff" stroke-opacity="0.5" stroke-width="1.2" stroke-dasharray="3,1.6"/>
<line x1="623.9" y1="72.5" x2="639.8" y2="72.5" stroke="#008000" stroke-width="1.5"/>
<line x1="623.9" y1="87.2" x2="639.8" y2="87.2" stroke="#800080" stroke-opacity="0.55" stroke-width="1.2" stroke-dasharray="3,1.6"/>
<text x="644.4" y="45.8" font-size="8.4" fill="#222" font-style="italic" stroke="#222" stroke-width="0.2">g</text>
<text x="649.6" y="41.6" font-size="4.6" fill="#222">(2)</text>
<text x="649.4" y="47.6" font-size="4.8" fill="#222" textLength="12" lengthAdjust="spacingAndGlyphs">1111</text>
<text x="644.4" y="60.5" font-size="8.4" fill="#222" font-style="italic" stroke="#222" stroke-width="0.2">g</text>
<text x="649.6" y="56.3" font-size="4.6" fill="#222">(2)</text>
<text x="649.4" y="62.3" font-size="4.8" fill="#222" textLength="12" lengthAdjust="spacingAndGlyphs">2222</text>
<text x="644.4" y="75.1" font-size="8.4" fill="#222" font-style="italic" stroke="#222" stroke-width="0.2">g</text>
<text x="649.6" y="70.9" font-size="4.6" fill="#222">(2)</text>
<text x="649.4" y="76.9" font-size="4.8" fill="#222" textLength="12" lengthAdjust="spacingAndGlyphs">1122</text>
<text x="644.4" y="89.8" font-size="8.4" fill="#222" font-style="italic" stroke="#222" stroke-width="0.2">g</text>
<text x="649.6" y="85.6" font-size="4.6" fill="#222">(2)</text>
<text x="649.4" y="91.6" font-size="4.8" fill="#222" textLength="12" lengthAdjust="spacingAndGlyphs">2211</text>
<text x="7.6" y="166.4" font-size="13" text-anchor="start" fill="#000" stroke="none" letter-spacing="1.9">c)</text>
<rect x="24.5" y="158.1" width="236.9" height="136.3" fill="none" stroke="#c4c4c4" stroke-width="1"/>
<line x1="22.9" y1="176.26" x2="24.5" y2="176.26" stroke="#999" stroke-width="0.7"/>
<text x="21.9" y="177.66" font-size="4" text-anchor="end" fill="#555" >6</text>
<line x1="22.9" y1="195.64" x2="24.5" y2="195.64" stroke="#999" stroke-width="0.7"/>
<text x="21.9" y="197.04" font-size="4" text-anchor="end" fill="#555" >4</text>
<line x1="22.9" y1="215.02" x2="24.5" y2="215.02" stroke="#999" stroke-width="0.7"/>
<text x="21.9" y="216.42" font-size="4" text-anchor="end" fill="#555" >2</text>
<line x1="22.9" y1="234.4" x2="24.5" y2="234.4" stroke="#999" stroke-width="0.7"/>
<text x="21.9" y="235.8" font-size="4" text-anchor="end" fill="#555" >0</text>
<line x1="22.9" y1="253.78" x2="24.5" y2="253.78" stroke="#999" stroke-width="0.7"/>
<text x="21.9" y="255.18" font-size="4" text-anchor="end" fill="#555" >&#8722;2</text>
<line x1="22.9" y1="273.16" x2="24.5" y2="273.16" stroke="#999" stroke-width="0.7"/>
<text x="21.9" y="274.56" font-size="4" text-anchor="end" fill="#555" >&#8722;4</text>
<line x1="22.9" y1="292.54" x2="24.5" y2="292.54" stroke="#999" stroke-width="0.7"/>
<text x="21.9" y="293.94" font-size="4" text-anchor="end" fill="#555" >&#8722;6</text>
<line x1="34.6" y1="294.4" x2="34.6" y2="296" stroke="#999" stroke-width="0.7"/>
<line x1="89.9" y1="294.4" x2="89.9" y2="296" stroke="#999" stroke-width="0.7"/>
<line x1="144.9" y1="294.4" x2="144.9" y2="296" stroke="#999" stroke-width="0.7"/>
<line x1="200.1" y1="294.4" x2="200.1" y2="296" stroke="#999" stroke-width="0.7"/>
<line x1="255.4" y1="294.4" x2="255.4" y2="296" stroke="#999" stroke-width="0.7"/>
<text x="34.6" y="305" font-size="10.8" text-anchor="middle" fill="#111" stroke="none">0</text>
<text x="89.9" y="301.6" font-size="6.4" text-anchor="middle" fill="#111" stroke="#111" stroke-width="0.12">&#960;</text>
<line x1="87.4" y1="303.4" x2="92.4" y2="303.4" stroke="#222" stroke-width="0.65"/>
<text x="89.9" y="309.2" font-size="6" text-anchor="middle" fill="#111" stroke="#111" stroke-width="0.12">4</text>
<text x="144.9" y="301.6" font-size="6.4" text-anchor="middle" fill="#111" stroke="#111" stroke-width="0.12">&#960;</text>
<line x1="142.4" y1="303.4" x2="147.4" y2="303.4" stroke="#222" stroke-width="0.65"/>
<text x="144.9" y="309.2" font-size="6" text-anchor="middle" fill="#111" stroke="#111" stroke-width="0.12">2</text>
<text x="200.1" y="302.5" font-size="6.4" text-anchor="middle" fill="#111" stroke="#111" stroke-width="0.12">3&#960;</text>
<line x1="195.4" y1="304.5" x2="204.8" y2="304.5" stroke="#222" stroke-width="0.65"/>
<text x="200.1" y="310.6" font-size="6" text-anchor="middle" fill="#111" stroke="#111" stroke-width="0.12">4</text>
<text x="252.5" y="305" font-size="10.8" text-anchor="start" fill="#111" textLength="5.8" lengthAdjust="spacingAndGlyphs" font-style="italic" stroke="none">&#960;</text>
<text x="144" y="319" font-size="8.6" text-anchor="middle" fill="#222" stroke="none" font-style="italic">uz<tspan font-size="6" dy="1.8">int</tspan></text>
<text transform="translate(14.6,226) rotate(-90)" font-size="8.6" text-anchor="middle" fill="#222" stroke="none" textLength="106" lengthAdjust="spacingAndGlyphs">Squeezing magnitude [dB]</text>
<g>
<path d="M34.8,167.4 C36.15,167.8 39.72,168.93 42.9,169.8 C46.08,170.67 50.25,171.68 53.9,172.6 C57.55,173.52 61.15,174.22 64.8,175.3 C68.45,176.38 72.52,177.63 75.8,179.1 C79.08,180.57 81.95,182.45 84.5,184.1 C87.05,185.75 89.18,187.45 91.1,189 C93.02,190.55 94.63,192.07 96,193.4 C97.37,194.73 97.8,195.25 99.3,197 C100.8,198.75 103.22,201.57 105,203.9 C106.78,206.23 108,207.73 110,211 C112,214.27 114.67,218.98 117,223.5 C119.33,228.02 121.83,232.92 124,238.1 C126.17,243.28 128.4,250.48 130,254.6 C131.6,258.72 132.38,260.05 133.6,262.8 C134.82,265.55 136.08,268.5 137.3,271.1 C138.52,273.7 139.68,276.58 140.9,278.4 C142.12,280.22 143.38,281.4 144.6,282 C145.82,282.6 146.98,282.45 148.2,282 C149.42,281.55 150.68,280.52 151.9,279.3 C153.12,278.08 154.28,276.38 155.5,274.7 C156.72,273.02 157.98,271.18 159.2,269.2 C160.42,267.22 161.58,264.92 162.8,262.8 C164.02,260.68 165.28,258.62 166.5,256.5 C167.72,254.38 168.88,252.23 170.1,250.1 C171.32,247.97 172.58,245.83 173.8,243.7 C175.02,241.57 176.28,239.42 177.4,237.3 C178.52,235.18 179.48,232.95 180.5,231 C181.52,229.05 182.4,227.42 183.5,225.6 C184.6,223.78 185.88,221.92 187.1,220.1 C188.32,218.28 189.58,216.45 190.8,214.7 C192.02,212.95 193.18,211.28 194.4,209.6 C195.62,207.92 196.88,206.18 198.1,204.6 C199.32,203.02 200.48,201.55 201.7,200.1 C202.92,198.65 204.18,197.18 205.4,195.9 C206.62,194.62 207.87,193.45 209,192.4 C210.13,191.35 209.85,191.68 212.2,189.6 C214.55,187.52 219.1,182.8 223.1,179.9 C227.1,177 231.62,174.07 236.2,172.2 C240.78,170.33 248.2,169.28 250.6,168.7" fill="none" stroke="#2ca02c" stroke-width="0.9" stroke-linecap="butt" stroke-linejoin="round" stroke-opacity="0.85" />
<path d="M34.8,278.1 C36.77,275.42 42.7,267.6 46.6,262 C50.5,256.4 54.32,250.33 58.2,244.5 C62.08,238.67 66,232.58 69.9,227 C73.8,221.42 78.15,215.77 81.6,211 C85.05,206.23 87.97,201.82 90.6,198.4 C93.23,194.98 95.02,193.1 97.4,190.5 C99.78,187.9 102,185.32 104.9,182.8 C107.8,180.28 111.5,177.47 114.8,175.4 C118.1,173.33 120.98,171.7 124.7,170.4 C128.42,169.1 132.88,168.07 137.1,167.6 C141.32,167.13 146.08,167.18 150,167.6 C153.92,168.02 157.05,169.15 160.6,170.1 C164.15,171.05 167.75,172.23 171.3,173.3 C174.85,174.37 178.35,175.35 181.9,176.5 C185.45,177.65 189.05,178.87 192.6,180.2 C196.15,181.53 200.47,183.1 203.2,184.5 C205.93,185.9 207.45,187.38 209,188.6 C210.55,189.82 211.28,190.5 212.5,191.8 C213.72,193.1 215.05,194.95 216.3,196.4 C217.55,197.85 219.08,199.28 220,200.5 C220.92,201.72 220.58,201.8 221.8,203.7 C223.02,205.6 225.48,209 227.3,211.9 C229.12,214.8 231.03,218 232.7,221.1 C234.37,224.2 236.17,227.97 237.3,230.5 C238.43,233.03 238.2,233 239.5,236.3 C240.8,239.6 243.23,245.88 245.1,250.3 C246.97,254.72 249.77,260.72 250.7,262.8" fill="none" stroke="#2ca02c" stroke-width="0.95" stroke-linecap="butt" stroke-linejoin="round" stroke-dasharray="1.8,0.9" stroke-opacity="0.9" />
<path d="M34.8,191.6 C35.43,190.98 37.25,189.07 38.6,187.9 C39.95,186.73 41.27,185.7 42.9,184.6 C44.53,183.5 46.57,182.27 48.4,181.3 C50.23,180.33 52.07,179.58 53.9,178.8 C55.73,178.02 57.58,177.27 59.4,176.6 C61.22,175.93 62.98,175.42 64.8,174.8 C66.62,174.18 68.47,173.48 70.3,172.9 C72.13,172.32 73.98,171.82 75.8,171.3 C77.62,170.78 79.38,170.27 81.2,169.8 C83.02,169.33 84.87,168.9 86.7,168.5 C88.53,168.1 90.42,167.75 92.2,167.4 C93.98,167.05 94.67,166.68 97.4,166.4 C100.13,166.12 104.67,165.55 108.6,165.7 C112.53,165.85 117.07,166.32 121,167.3 C124.93,168.28 129.1,169.73 132.2,171.6 C135.3,173.47 137.17,175.68 139.6,178.5 C142.03,181.32 144.47,185.33 146.8,188.5 C149.13,191.67 151.33,194.5 153.6,197.5 C155.87,200.5 158.13,203.3 160.4,206.5 C162.67,209.7 164.93,213.42 167.2,216.7 C169.47,219.98 171.73,222.97 174,226.2 C176.27,229.43 178.53,232.47 180.8,236.1 C183.07,239.73 185.33,244.03 187.6,248 C189.87,251.97 192.13,255.93 194.4,259.9 C196.67,263.87 199.18,268.05 201.2,271.8 C203.22,275.55 204.8,279.7 206.5,282.4 C208.2,285.1 209.85,287.07 211.4,288 C212.95,288.93 214.37,288.8 215.8,288 C217.23,287.2 218.37,285.77 220,283.2 C221.63,280.63 223.75,276.68 225.6,272.6 C227.45,268.52 229.25,263.35 231.1,258.7 C232.95,254.05 234.83,249.37 236.7,244.7 C238.57,240.03 240.67,234.65 242.3,230.7 C243.93,226.75 245.07,224.52 246.5,221 C247.93,217.48 250.17,211.5 250.9,209.6" fill="none" stroke="#ff0000" stroke-width="1.9" stroke-linecap="butt" stroke-linejoin="round" />
<path d="M34.8,191.6 C35.43,190.98 37.25,189.07 38.6,187.9 C39.95,186.73 41.27,185.7 42.9,184.6 C44.53,183.5 46.57,182.27 48.4,181.3 C50.23,180.33 52.07,179.58 53.9,178.8 C55.73,178.02 57.58,177.27 59.4,176.6 C61.22,175.93 62.98,175.42 64.8,174.8 C66.62,174.18 68.47,173.48 70.3,172.9 C72.13,172.32 73.98,171.82 75.8,171.3 C77.62,170.78 79.38,170.27 81.2,169.8 C83.02,169.33 84.87,168.9 86.7,168.5 C88.53,168.1 90.42,167.75 92.2,167.4 C93.98,167.05 94.67,166.68 97.4,166.4 C100.13,166.12 104.67,165.55 108.6,165.7 C112.53,165.85 117.07,166.32 121,167.3 C124.93,168.28 129.1,169.73 132.2,171.6 C135.3,173.47 137.17,175.68 139.6,178.5 C142.03,181.32 144.47,185.33 146.8,188.5 C149.13,191.67 151.33,194.5 153.6,197.5 C155.87,200.5 158.13,203.3 160.4,206.5 C162.67,209.7 164.93,213.42 167.2,216.7 C169.47,219.98 171.73,222.97 174,226.2 C176.27,229.43 178.53,232.47 180.8,236.1 C183.07,239.73 185.33,244.03 187.6,248 C189.87,251.97 192.13,255.93 194.4,259.9 C196.67,263.87 199.18,268.05 201.2,271.8 C203.22,275.55 204.8,279.7 206.5,282.4 C208.2,285.1 209.85,287.07 211.4,288 C212.95,288.93 214.37,288.8 215.8,288 C217.23,287.2 218.37,285.77 220,283.2 C221.63,280.63 223.75,276.68 225.6,272.6 C227.45,268.52 229.25,263.35 231.1,258.7 C232.95,254.05 234.83,249.37 236.7,244.7 C238.57,240.03 240.67,234.65 242.3,230.7 C243.93,226.75 245.07,224.52 246.5,221 C247.93,217.48 250.17,211.5 250.9,209.6" fill="none" stroke="#0000ff" stroke-width="1.5" stroke-linecap="butt" stroke-linejoin="round" stroke-opacity="0.52" />
<path d="M34.8,196.4 C35.78,197.52 38.73,200.82 40.7,203.1 C42.67,205.38 44.65,207.67 46.6,210.1 C48.55,212.53 50.47,215.13 52.4,217.7 C54.33,220.27 56.25,222.88 58.2,225.5 C60.15,228.12 62.15,230.72 64.1,233.4 C66.05,236.08 67.97,238.78 69.9,241.6 C71.83,244.42 73.75,247.15 75.7,250.3 C77.65,253.45 80.13,257.83 81.6,260.5 C83.07,263.17 83.5,264.4 84.5,266.3 C85.5,268.2 86.47,270.07 87.6,271.9 C88.73,273.73 90.18,275.88 91.3,277.3 C92.42,278.72 93.38,279.68 94.3,280.4 C95.22,281.12 95.98,281.6 96.8,281.6 C97.62,281.6 98.3,281.12 99.2,280.4 C100.1,279.68 101.18,278.62 102.2,277.3 C103.22,275.98 104.28,274.42 105.3,272.5 C106.32,270.58 107.3,268.13 108.3,265.8 C109.3,263.47 110.28,260.93 111.3,258.5 C112.32,256.07 113.37,253.68 114.4,251.2 C115.43,248.72 115.98,247.38 117.5,243.6 C119.02,239.82 121.32,233.3 123.5,228.5 C125.68,223.7 127.97,219.3 130.6,214.8 C133.23,210.3 136.02,205.38 139.3,201.5 C142.58,197.62 146.75,194.33 150.3,191.5 C153.85,188.67 157.1,186.73 160.6,184.5 C164.1,182.27 167.75,179.88 171.3,178.1 C174.85,176.32 178.35,175.13 181.9,173.8 C185.45,172.47 189.05,171.33 192.6,170.1 C196.15,168.87 199.47,167.42 203.2,166.4 C206.93,165.38 211.58,164.32 215,164 C218.42,163.68 220.45,163.93 223.7,164.5 C226.95,165.07 231.37,166.02 234.5,167.4 C237.63,168.78 240.05,170.67 242.5,172.8 C244.95,174.93 248.08,178.97 249.2,180.2" fill="none" stroke="#ff0000" stroke-width="1.25" stroke-linecap="butt" stroke-linejoin="round" stroke-dasharray="3,1.6" />
<path d="M34.8,196.4 C35.78,197.52 38.73,200.82 40.7,203.1 C42.67,205.38 44.65,207.67 46.6,210.1 C48.55,212.53 50.47,215.13 52.4,217.7 C54.33,220.27 56.25,222.88 58.2,225.5 C60.15,228.12 62.15,230.72 64.1,233.4 C66.05,236.08 67.97,238.78 69.9,241.6 C71.83,244.42 73.75,247.15 75.7,250.3 C77.65,253.45 80.13,257.83 81.6,260.5 C83.07,263.17 83.5,264.4 84.5,266.3 C85.5,268.2 86.47,270.07 87.6,271.9 C88.73,273.73 90.18,275.88 91.3,277.3 C92.42,278.72 93.38,279.68 94.3,280.4 C95.22,281.12 95.98,281.6 96.8,281.6 C97.62,281.6 98.3,281.12 99.2,280.4 C100.1,279.68 101.18,278.62 102.2,277.3 C103.22,275.98 104.28,274.42 105.3,272.5 C106.32,270.58 107.3,268.13 108.3,265.8 C109.3,263.47 110.28,260.93 111.3,258.5 C112.32,256.07 113.37,253.68 114.4,251.2 C115.43,248.72 115.98,247.38 117.5,243.6 C119.02,239.82 121.32,233.3 123.5,228.5 C125.68,223.7 127.97,219.3 130.6,214.8 C133.23,210.3 136.02,205.38 139.3,201.5 C142.58,197.62 146.75,194.33 150.3,191.5 C153.85,188.67 157.1,186.73 160.6,184.5 C164.1,182.27 167.75,179.88 171.3,178.1 C174.85,176.32 178.35,175.13 181.9,173.8 C185.45,172.47 189.05,171.33 192.6,170.1 C196.15,168.87 199.47,167.42 203.2,166.4 C206.93,165.38 211.58,164.32 215,164 C218.42,163.68 220.45,163.93 223.7,164.5 C226.95,165.07 231.37,166.02 234.5,167.4 C237.63,168.78 240.05,170.67 242.5,172.8 C244.95,174.93 248.08,178.97 249.2,180.2" fill="none" stroke="#0000ff" stroke-width="1.25" stroke-linecap="butt" stroke-linejoin="round" stroke-dasharray="2.2,1.1" stroke-opacity="0.55" />
</g>
<rect x="92.2" y="160.9" width="167" height="28" rx="1.6" fill="#fff" fill-opacity="0.8" stroke="#d6d6d6" stroke-width="0.8"/>
<line x1="93.9" y1="165.6" x2="105.8" y2="165.6" stroke="#ff0000" stroke-width="1.9"/>
<line x1="93.9" y1="174.4" x2="105.8" y2="174.4" stroke="#ff0000" stroke-width="1.2" stroke-dasharray="4.2,2"/>
<line x1="93.9" y1="183.2" x2="105.8" y2="183.2" stroke="#0000ff" stroke-opacity="0.55" stroke-width="1.1"/>
<line x1="176.7" y1="165.9" x2="187.6" y2="165.9" stroke="#0000ff" stroke-opacity="0.7" stroke-width="0.9" stroke-dasharray="2.2,1.0"/>
<line x1="176.7" y1="174.4" x2="187.6" y2="174.4" stroke="#2ca02c" stroke-width="1.1"/>
<line x1="176.7" y1="182.8" x2="187.6" y2="182.8" stroke="#2ca02c" stroke-width="0.9" stroke-dasharray="2.2,1.0"/>
<text x="109.3" y="167.9" font-size="6.2" text-anchor="start" fill="#222" textLength="56" lengthAdjust="spacingAndGlyphs" >Single-mode X1 DW1</text>
<text x="109.3" y="176.7" font-size="6.2" text-anchor="start" fill="#222" textLength="56" lengthAdjust="spacingAndGlyphs" >Single-mode X2 DW1</text>
<text x="109.3" y="185.5" font-size="6.2" text-anchor="start" fill="#222" textLength="56" lengthAdjust="spacingAndGlyphs" >Single-mode X1 DW2</text>
<text x="191.7" y="168.1" font-size="6.2" text-anchor="start" fill="#222" textLength="56.2" lengthAdjust="spacingAndGlyphs" >Single-mode X2 DW2</text>
<text x="191.7" y="176.6" font-size="6.2" text-anchor="start" fill="#222" textLength="64.5" lengthAdjust="spacingAndGlyphs" >Two-mode X1 DW1-DW2</text>
<text x="191.7" y="185" font-size="6.2" text-anchor="start" fill="#222" textLength="64.5" lengthAdjust="spacingAndGlyphs" >Two-mode X2 DW1-DW2</text>
<text x="9" y="22" font-size="15" text-anchor="start" fill="#000" stroke="none" letter-spacing="2.7">a)</text>
<path d="M40.7,18 L40.7,133.6" fill="none" stroke="#bebec1" stroke-width="6.8"/>
<path d="M59.6,18 L59.6,133.6" fill="none" stroke="#bebec1" stroke-width="6.8"/>
<path d="M77.8,18 L77.8,20.5 C77.8,23.44 70.2,28.06 70.2,31 L70.2,117.5 C70.2,120.3 78.1,124.7 78.1,127.5 L78.1,133.6" fill="none" stroke="#bebec1" stroke-width="6.8"/>
<path d="M88.3,18 L88.3,133.6" fill="none" stroke="#bebec1" stroke-width="6.8"/>
<path d="M107.5,18 L107.5,39.5 C107.5,42.58 100.6,47.42 100.6,50.5 L100.6,98.5 C100.6,101.58 107.7,106.42 107.7,109.5 L107.7,133.6" fill="none" stroke="#bebec1" stroke-width="6.8"/>
<path d="M118.8,18 L118.8,133.6" fill="none" stroke="#bebec1" stroke-width="6.8"/>
<path d="M137.5,18 L137.5,133.6" fill="none" stroke="#bebec1" stroke-width="6.8"/>
<path d="M147.4,18 L147.4,37.5 C147.4,40.86 155.4,46.14 155.4,49.5 L155.4,95.5 C155.4,98.86 147.6,104.14 147.6,107.5 L147.6,133.6" fill="none" stroke="#bebec1" stroke-width="6.8"/>
<path d="M167.6,18 L167.6,133.6" fill="none" stroke="#bebec1" stroke-width="6.8"/>
<path d="M178.4,18 L178.4,25.5 C178.4,28.3 185.7,32.7 185.7,35.5 L185.7,117.5 C185.7,120.44 178.6,125.06 178.6,128 L178.6,133.6" fill="none" stroke="#bebec1" stroke-width="6.8"/>
<path d="M196.7,18 L196.7,133.6" fill="none" stroke="#bebec1" stroke-width="6.8"/>
<path d="M215.5,18 L215.5,133.6" fill="none" stroke="#bebec1" stroke-width="6.8"/>
<line x1="37.7" y1="133.0" x2="43.7" y2="133.0" stroke="#a2a2a2" stroke-width="1.1"/>
<line x1="56.6" y1="133.0" x2="62.6" y2="133.0" stroke="#a2a2a2" stroke-width="1.1"/>
<line x1="75.1" y1="133.0" x2="81.1" y2="133.0" stroke="#a2a2a2" stroke-width="1.1"/>
<line x1="85.3" y1="133.0" x2="91.3" y2="133.0" stroke="#a2a2a2" stroke-width="1.1"/>
<line x1="104.7" y1="133.0" x2="110.7" y2="133.0" stroke="#a2a2a2" stroke-width="1.1"/>
<line x1="115.8" y1="133.0" x2="121.8" y2="133.0" stroke="#a2a2a2" stroke-width="1.1"/>
<line x1="134.5" y1="133.0" x2="140.5" y2="133.0" stroke="#a2a2a2" stroke-width="1.1"/>
<line x1="144.6" y1="133.0" x2="150.6" y2="133.0" stroke="#a2a2a2" stroke-width="1.1"/>
<line x1="164.6" y1="133.0" x2="170.6" y2="133.0" stroke="#a2a2a2" stroke-width="1.1"/>
<line x1="175.6" y1="133.0" x2="181.6" y2="133.0" stroke="#a2a2a2" stroke-width="1.1"/>
<line x1="193.7" y1="133.0" x2="199.7" y2="133.0" stroke="#a2a2a2" stroke-width="1.1"/>
<line x1="212.5" y1="133.0" x2="218.5" y2="133.0" stroke="#a2a2a2" stroke-width="1.1"/>
<line x1="36" y1="37.3" x2="220" y2="37.3" stroke="#fff" stroke-opacity="0.16" stroke-width="0.8"/>
<line x1="36" y1="56.4" x2="220" y2="56.4" stroke="#fff" stroke-opacity="0.16" stroke-width="0.8"/>
<line x1="36" y1="75" x2="220" y2="75" stroke="#fff" stroke-opacity="0.16" stroke-width="0.8"/>
<line x1="36" y1="94.2" x2="220" y2="94.2" stroke="#fff" stroke-opacity="0.16" stroke-width="0.8"/>
<line x1="36" y1="113.4" x2="220" y2="113.4" stroke="#fff" stroke-opacity="0.16" stroke-width="0.8"/>
<circle cx="11.1" cy="67.2" r="0.75" fill="#222"/>
<circle cx="19.4" cy="67.2" r="0.75" fill="#222"/>
<circle cx="27.3" cy="67.2" r="0.75" fill="#222"/>
<circle cx="35.5" cy="67.2" r="0.75" fill="#222"/>
<circle cx="11.1" cy="85.4" r="0.75" fill="#222"/>
<circle cx="19.4" cy="85.4" r="0.75" fill="#222"/>
<circle cx="27.3" cy="85.4" r="0.75" fill="#222"/>
<circle cx="35.5" cy="85.4" r="0.75" fill="#222"/>
<circle cx="226.4" cy="66.3" r="0.75" fill="#222"/>
<circle cx="235.3" cy="66.3" r="0.75" fill="#222"/>
<circle cx="244.1" cy="66.3" r="0.75" fill="#222"/>
<circle cx="252.8" cy="66.3" r="0.75" fill="#222"/>
<circle cx="226.4" cy="79.9" r="0.75" fill="#222"/>
<circle cx="235.3" cy="79.9" r="0.75" fill="#222"/>
<circle cx="244.1" cy="79.9" r="0.75" fill="#222"/>
<circle cx="252.8" cy="79.9" r="0.75" fill="#222"/>
<rect x="50.8" y="109.5" width="48.7" height="22.8" fill="none" stroke="#111" stroke-width="1.1"/>
<path d="M59.3,19.5 C59.33,19.83 59.28,20.47 59.5,21.5 C59.72,22.53 59.9,24.37 60.6,25.7 C61.3,27.03 62.43,28.37 63.7,29.5 C64.97,30.63 66.43,31.67 68.2,32.5 C69.97,33.33 72.27,33.87 74.3,34.5 C76.33,35.13 78.68,35.67 80.4,36.3 C82.12,36.93 83.6,37.48 84.6,38.3 C85.6,39.12 85.68,40.37 86.4,41.2 C87.12,42.03 87.63,42.72 88.9,43.3 C90.17,43.88 91.88,44.13 94,44.7 C96.12,45.27 99.07,45.92 101.6,46.7 C104.13,47.48 106.92,48.38 109.2,49.4 C111.48,50.42 113.63,51.67 115.3,52.8 C116.97,53.93 117.83,55.47 119.2,56.2 C120.57,56.93 122.08,56.8 123.5,57.2 C124.92,57.6 126.15,58 127.7,58.6 C129.25,59.2 131.47,59.83 132.8,60.8 C134.13,61.77 135.62,63.2 135.7,64.4 C135.78,65.6 134.63,67.02 133.3,68 C131.97,68.98 129.38,69.53 127.7,70.3 C126.02,71.07 124.63,71.7 123.2,72.6 C121.77,73.5 119.78,75.18 119.1,75.7 C119.75,76.47 121.57,78.85 123,80.3 C124.43,81.75 126.1,83.03 127.7,84.4 C129.3,85.77 131.33,87.18 132.6,88.5 C133.87,89.82 134.6,91.08 135.3,92.3 C136,93.52 135.67,94.75 136.8,95.8 C137.93,96.85 139.43,97.62 142.1,98.6 C144.77,99.58 149.5,100.68 152.8,101.7 C156.1,102.72 159.63,103.7 161.9,104.7 C164.17,105.7 165.38,106.68 166.4,107.7 C167.42,108.72 167.3,109.77 168,110.8 C168.7,111.83 169.08,113.02 170.6,113.9 C172.12,114.78 174.75,115.35 177.1,116.1 C179.45,116.85 182.43,117.62 184.7,118.4 C186.97,119.18 189.07,119.77 190.7,120.8 C192.33,121.83 193.5,123.23 194.5,124.6 C195.5,125.97 196.25,127.6 196.7,129 C197.15,130.4 197.12,132.33 197.2,133" fill="none" stroke="#3f7335" stroke-width="0.85" stroke-dasharray="1.4,0.4"/>
<path d="M196.9,19.5 C196.88,19.75 197.32,20.1 196.8,21 C196.28,21.9 195.32,23.62 193.8,24.9 C192.28,26.18 189.98,27.68 187.7,28.7 C185.42,29.72 182.63,30.12 180.1,31 C177.57,31.88 174.37,32.87 172.5,34 C170.63,35.13 169.78,36.53 168.9,37.8 C168.02,39.07 167.9,40.47 167.2,41.6 C166.5,42.73 166.35,43.72 164.7,44.6 C163.05,45.48 160.05,46.25 157.3,46.9 C154.55,47.55 150.98,47.72 148.2,48.5 C145.42,49.28 142.73,50.43 140.6,51.6 C138.47,52.77 136.92,54.53 135.4,55.5 C133.88,56.47 132.78,56.88 131.5,57.4 C130.22,57.92 129.2,58 127.7,58.6 C126.2,59.2 123.83,59.93 122.5,61 C121.17,62.07 119.73,63.78 119.7,65 C119.67,66.22 120.97,67.42 122.3,68.3 C123.63,69.18 125.98,69.58 127.7,70.3 C129.42,71.02 131.02,71.73 132.6,72.6 C134.18,73.47 136.43,75.02 137.2,75.5 C136.47,76.28 134.38,78.72 132.8,80.2 C131.22,81.68 129.35,83.02 127.7,84.4 C126.05,85.78 124.08,87.18 122.9,88.5 C121.72,89.82 121.1,91.23 120.6,92.3 C120.1,93.37 120.78,94.23 119.9,94.9 C119.02,95.57 117.33,95.8 115.3,96.3 C113.27,96.8 110.48,97.27 107.7,97.9 C104.92,98.53 101.1,99.35 98.6,100.1 C96.1,100.85 94.22,101.38 92.7,102.4 C91.18,103.42 90.55,104.83 89.5,106.2 C88.45,107.57 87.92,109.35 86.4,110.6 C84.88,111.85 82.92,112.78 80.4,113.7 C77.88,114.62 73.97,115.18 71.3,116.1 C68.63,117.02 66.18,117.82 64.4,119.2 C62.62,120.58 61.43,122.65 60.6,124.4 C59.77,126.15 59.63,128.27 59.4,129.7 C59.17,131.13 59.23,132.45 59.2,133" fill="none" stroke="#3f7335" stroke-width="0.85" stroke-dasharray="1.4,0.4"/>
<circle cx="119.3" cy="75.7" r="0.7" fill="#3a6a30"/>
<circle cx="137" cy="75.5" r="0.7" fill="#3a6a30"/>
<path d="M3.6,0 L-3.6,3.3 L-1.8,0 L-3.6,-3.3 Z" fill="#2a5a1f" transform="translate(59.3,16.8) rotate(-90)"/>
<path d="M3.6,0 L-3.6,3.3 L-1.8,0 L-3.6,-3.3 Z" fill="#2a5a1f" transform="translate(196.9,17.4) rotate(-90)"/>
<path d="M3.6,0 L-3.6,3.3 L-1.8,0 L-3.6,-3.3 Z" fill="#2a5a1f" transform="translate(59.3,136.6) rotate(-90)"/>
<path d="M3.6,0 L-3.6,3.3 L-1.8,0 L-3.6,-3.3 Z" fill="#2a5a1f" transform="translate(197.3,136.6) rotate(-90)"/>
<path d="M2.04,0 L-2.04,1.87 L-1.02,0 L-2.04,-1.87 Z" fill="#2d5e22" transform="translate(86.6,41.6) rotate(-120)"/>
<path d="M2.04,0 L-2.04,1.87 L-1.02,0 L-2.04,-1.87 Z" fill="#2d5e22" transform="translate(119,56.2) rotate(-160)"/>
<path d="M2.04,0 L-2.04,1.87 L-1.02,0 L-2.04,-1.87 Z" fill="#2d5e22" transform="translate(135.4,55.8) rotate(-30)"/>
<path d="M2.04,0 L-2.04,1.87 L-1.02,0 L-2.04,-1.87 Z" fill="#2d5e22" transform="translate(167.3,41.5) rotate(-60)"/>
<path d="M2.04,0 L-2.04,1.87 L-1.02,0 L-2.04,-1.87 Z" fill="#2d5e22" transform="translate(119.9,95) rotate(-55)"/>
<path d="M2.04,0 L-2.04,1.87 L-1.02,0 L-2.04,-1.87 Z" fill="#2d5e22" transform="translate(136.8,95.8) rotate(-125)"/>
<path d="M2.04,0 L-2.04,1.87 L-1.02,0 L-2.04,-1.87 Z" fill="#2d5e22" transform="translate(88.8,107.6) rotate(-60)"/>
<path d="M2.04,0 L-2.04,1.87 L-1.02,0 L-2.04,-1.87 Z" fill="#2d5e22" transform="translate(168.1,110.6) rotate(-120)"/>
<path d="M105.5,54.4 H114.8 M110.15,54.4 V68.8 M110.15,80 V94.8 M105.5,94.8 H114.8" fill="none" stroke="#f26a12" stroke-width="1.3"/>
<text x="93.8" y="77.0" font-size="12.6" font-weight="bold" fill="#f26a12" textLength="7.4" lengthAdjust="spacingAndGlyphs" stroke="#f26a12" stroke-width="0.2">z</text>
<text x="101.3" y="77.9" font-size="8.6" font-weight="bold" fill="#f26a12" textLength="16.4" lengthAdjust="spacingAndGlyphs" stroke="#f26a12" stroke-width="0.2">int</text>
<path d="M123.5,97.2 V102.4 M123.5,99.8 H133.5 M133.5,97.2 V102.4" fill="none" stroke="#2626ff" stroke-width="1.1"/>
<text x="125.9" y="96.7" font-size="8.4" fill="#2626ff" textLength="5.2" lengthAdjust="spacingAndGlyphs" stroke="#2626ff" stroke-width="0.2">u</text>
<path d="M55.8,133.4 H62.6 M193.9,133.4 H200.6" stroke="#f26a12" stroke-width="1.4"/>
<text transform="translate(45.8,13.6) scale(1,0.9)" x="0" y="0" font-size="9.4" fill="#111" textLength="26.7" lengthAdjust="spacingAndGlyphs" stroke="#111" stroke-width="0.2">DW1</text>
<text transform="translate(183.6,13.7) scale(1,0.9)" x="0" y="0" font-size="9.4" fill="#111" textLength="26.9" lengthAdjust="spacingAndGlyphs" stroke="#111" stroke-width="0.2">DW2</text>
<text transform="translate(44.8,148.6) scale(1,1)" x="0" y="0" font-size="10.6" fill="#111" textLength="27.8" lengthAdjust="spacingAndGlyphs" stroke="#111" stroke-width="0.2">DW1</text>
<text transform="translate(184.3,150.2) scale(1,1.17)" x="0" y="0" font-size="10.6" fill="#111" textLength="26.9" lengthAdjust="spacingAndGlyphs" stroke="#111" stroke-width="0.2">DW2</text>
<line x1="240.2" y1="16" x2="240.2" y2="34.2" stroke="#333" stroke-width="0.9"/>
<path d="M240.2,9.4 L243.3,17.2 L240.2,15.8 L237.1,17.2 Z" fill="#000"/>
<text x="226.8" y="26.7" font-size="11.4" fill="#111" textLength="6.4" lengthAdjust="spacingAndGlyphs" stroke="#111" stroke-width="0.2">z</text>
</svg>
</body></html>
